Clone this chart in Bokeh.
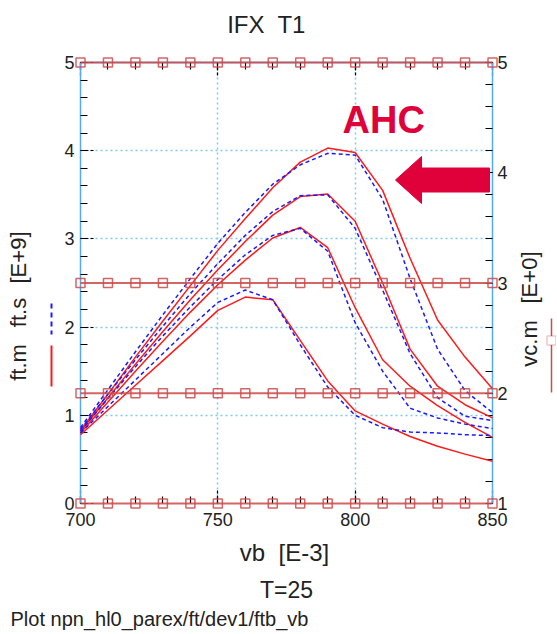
import numpy as np
from bokeh.plotting import figure
from bokeh.models import Range1d, LinearAxis, FixedTicker, Label, PolyAnnotation, Arrow
from bokeh.embed import file_html
from bokeh.resources import INLINE

# ---------------- data ----------------
vb = [700, 710, 720, 730, 740, 750, 760, 770, 780, 790, 800, 810, 820, 830, 840, 850]

ftm_1 = [0.83, 1.24, 1.66, 2.07, 2.47, 2.87, 3.23, 3.58, 3.87, 4.03, 3.98, 3.55, 2.78, 2.08, 1.66, 1.30]
ftm_2 = [0.82, 1.20, 1.58, 1.95, 2.31, 2.65, 2.97, 3.27, 3.48, 3.51, 3.20, 2.50, 1.75, 1.33, 1.12, 0.97]
ftm_3 = [0.80, 1.15, 1.50, 1.84, 2.17, 2.48, 2.76, 3.01, 3.13, 2.90, 2.22, 1.63, 1.33, 1.11, 0.92, 0.75]
ftm_4 = [0.78, 1.06, 1.34, 1.62, 1.90, 2.19, 2.34, 2.31, 1.85, 1.39, 1.05, 0.90, 0.76, 0.65, 0.56, 0.48]

fts_1 = [0.86, 1.29, 1.72, 2.14, 2.55, 2.95, 3.30, 3.62, 3.84, 3.97, 3.95, 3.45, 2.55, 1.75, 1.28, 1.03]
fts_2 = [0.84, 1.24, 1.63, 2.01, 2.38, 2.72, 3.04, 3.31, 3.49, 3.50, 3.12, 2.42, 1.70, 1.20, 0.99, 0.94]
fts_3 = [0.82, 1.19, 1.55, 1.90, 2.23, 2.54, 2.82, 3.04, 3.12, 2.86, 2.05, 1.50, 1.08, 0.97, 0.90, 0.85]
fts_4 = [0.80, 1.10, 1.40, 1.70, 2.00, 2.28, 2.42, 2.31, 1.80, 1.32, 1.00, 0.86, 0.81, 0.80, 0.78, 0.77]

vcm_1 = [1, 1, 1, 1, 1, 1, 1, 1, 1, 1, 1, 1, 1, 1, 1, 1]
vcm_2 = [2, 2, 2, 2, 2, 2, 2, 2, 2, 2, 2, 2, 2, 2, 2, 2]
vcm_3 = [3, 3, 3, 3, 3, 3, 3, 3, 3, 3, 3, 3, 3, 3, 3, 3]
vcm_5 = [5, 5, 5, 5, 5, 5, 5, 5, 5, 5, 5, 5, 5, 5, 5, 5]

x_major = [700, 750, 800, 850]
y_left_major = [0, 1, 2, 3, 4, 5]
y_right_major = [1, 2, 3, 4, 5]

ftm_series = [ftm_1, ftm_2, ftm_3, ftm_4]
fts_series = [fts_1, fts_2, fts_3, fts_4]
vcm_series = [vcm_1, vcm_2, vcm_3, vcm_5]

# ---------------- geometry (page pixels) ----------------
W, H = 556, 633
PL, PR, PT, PB = 80, 492, 62, 503          # plot box edges
XMIN, XMAX, YMIN, YMAX = 700, 850, 0, 5
KX = (PR - PL) / (XMAX - XMIN)
KY = (PB - PT) / (YMAX - YMIN)
NB = "\u00a0"


def X(px):
    return XMIN + (px - PL) / KX


def Y(py):
    return YMIN + (PB - py) / KY


def VCY(ft):  # ft-axis value -> vc-axis value (vc 1..5 spans ft 0..5)
    return 1 + (ft - YMIN) * 4 / (YMAX - YMIN)


FONT = "Liberation Sans"
RED = "#ff1a1a"
BLUE = "#1a1aff"
VC = "#cc4a4a"
FRAME = "#55aaf5"
GRID = "#80c8f0"
TXT = "#222222"
CRIM = "#e0003a"

p = figure(width=W, height=H, x_range=Range1d(X(0), X(W)), y_range=Range1d(Y(H), Y(0)),
           output_backend="svg", toolbar_location=None, min_border=0,
           min_border_left=0, min_border_right=0, min_border_top=0, min_border_bottom=0)
p.extra_y_ranges = {"vc": Range1d(VCY(Y(H)), VCY(Y(0)))}
p.background_fill_color = "white"
p.border_fill_color = "white"
p.outline_line_color = None
p.grid.visible = False

minor_x = list(range(700, 851, 10))
minor_yl = [round(v, 2) for v in np.arange(0, 5.001, 0.2)]
minor_yr = [round(v, 2) for v in np.arange(1, 5.001, 0.2)]


def style_axis(ax, line=True):
    ax.level = "underlay"
    ax.axis_line_color = FRAME if line else None
    ax.axis_line_width = 1.5
    ax.major_tick_in = 14
    ax.major_tick_out = 0
    ax.major_tick_line_dash = "3 2"
    ax.major_tick_line_color = "black"
    ax.major_tick_line_width = 1.2
    ax.minor_tick_in = 7
    ax.minor_tick_out = 0
    ax.minor_tick_line_color = "black"
    ax.minor_tick_line_width = 1.2
    ax.major_label_text_font = FONT
    ax.major_label_text_font_size = "18px"
    ax.major_label_text_color = TXT


# dotted grid drawn as long inward ticks (confined to the plot box)
gx = LinearAxis(fixed_location=YMAX, bounds=(XMIN, XMAX), ticker=FixedTicker(ticks=[750, 800]),
                axis_line_color=None, major_tick_in=PB - PT, major_tick_out=0,
                major_tick_line_color=GRID, major_tick_line_dash="2 3", major_tick_line_width=1.5,
                minor_tick_line_color=None, major_label_overrides={750: "", 800: ""}, level="underlay")
gy = LinearAxis(fixed_location=XMIN, bounds=(YMIN, YMAX), ticker=FixedTicker(ticks=[1, 2, 3, 4]),
                axis_line_color=None, major_tick_in=PR - PL, major_tick_out=0,
                major_tick_line_color=GRID, major_tick_line_dash="2 3", major_tick_line_width=1.5,
                minor_tick_line_color=None, major_label_overrides={1: "", 2: "", 3: "", 4: ""},
                level="underlay")

# bottom axis
xa = p.xaxis[0]
xa.fixed_location = YMIN
xa.bounds = (XMIN, XMAX)
xa.ticker = FixedTicker(ticks=x_major, minor_ticks=minor_x)
style_axis(xa, line=False)
xa.major_label_standoff = 9

# left axis
ya = p.yaxis[0]
ya.fixed_location = XMIN
ya.bounds = (YMIN, YMAX)
ya.ticker = FixedTicker(ticks=y_left_major, minor_ticks=minor_yl)
style_axis(ya)
ya.major_label_standoff = 6

# top axis (ticks only)
ta = LinearAxis(fixed_location=YMAX, bounds=(XMIN, XMAX),
                ticker=FixedTicker(ticks=x_major, minor_ticks=minor_x))
style_axis(ta)
ta.major_label_overrides = {t: "" for t in x_major}

# right axis (vc.m)
ra = LinearAxis(y_range_name="vc", fixed_location=XMAX, bounds=(1, 5),
                ticker=FixedTicker(ticks=y_right_major, minor_ticks=minor_yr))
style_axis(ra)
ra.major_tick_in = 7
ra.major_tick_line_dash = "solid"
ra.major_label_standoff = 5

p.above = [gx, ta]
p.left = [gy, ya]
p.right = [ra]

# curves
for s in ftm_series:
    p.line(vb, s, line_color=RED, line_width=1.5)
for s in fts_series:
    p.line(vb, s, line_color=BLUE, line_width=1.5, line_dash="4 3")
for s in vcm_series:
    p.line(vb, s, y_range_name="vc", line_color=VC, line_width=2, line_alpha=0.85)
    p.scatter(vb, s, y_range_name="vc", marker="square", size=9, fill_color=None,
              line_color=VC, line_width=1.5, line_alpha=0.85)


def lab(text, px, py, size, align="center", angle=0.0, color=TXT, style="normal"):
    # py is the vertical middle of the text's em box
    p.add_layout(Label(x=X(px), y=Y(py), text=text, text_font=FONT, text_font_size=size,
                       text_align=align, text_baseline="middle", angle=angle,
                       text_color=color, text_font_style=style))


# titles and axis names (middle = baseline - 0.35 em)
lab("IFX" + NB + " T1", 266, 23.6, "24px")
lab("vb" + NB + " [E-3]", 284, 551.6, "24px")
lab("T=25", 286, 589, "23px")
lab("Plot npn_hl0_parex/ft/dev1/ftb_vb", 10, 618.5, "20px", align="left")

lab("ft.m", 18, 362, "22px", angle=np.pi / 2)
lab("ft.s", 18, 312, "22px", angle=np.pi / 2)
lab("[E+9]", 18, 257, "22px", angle=np.pi / 2)
lab("vc.m", 529, 343, "22px", angle=np.pi / 2)
lab("[E+0]", 529, 277, "22px", angle=np.pi / 2)


def seg(x0, y0, x1, y1, color, width=1.5, dash="solid"):
    p.add_layout(Arrow(x_start=X(x0), y_start=Y(y0), x_end=X(x1), y_end=Y(y1), end=None,
                       line_color=color, line_width=width, line_dash=dash))


# legend samples
seg(51, 303, 51, 334, BLUE, 2, "5 4")
seg(51, 345, 51, 386, RED, 2)
seg(551, 318, 551, 392, VC, 1.5)
p.add_layout(PolyAnnotation(xs=[X(546.5), X(555.5), X(555.5), X(546.5)],
                            ys=[Y(335.5), Y(335.5), Y(344.5), Y(344.5)],
                            fill_color="white", fill_alpha=1.0, line_color=VC, line_width=1.5))

# AHC annotation and arrow
lab("AHC", 342, 119.7, "38px", align="left", color=CRIM, style="bold")
p.add_layout(PolyAnnotation(
    xs=[X(489), X(421), X(421), X(395), X(421), X(421), X(489)],
    ys=[Y(167.5), Y(167.5), Y(156), Y(179.5), Y(203), Y(191.5), Y(191.5)],
    fill_color=CRIM, fill_alpha=1.0, line_color=CRIM, line_alpha=1.0))

open("out.html", "w").write(file_html(p, INLINE))
